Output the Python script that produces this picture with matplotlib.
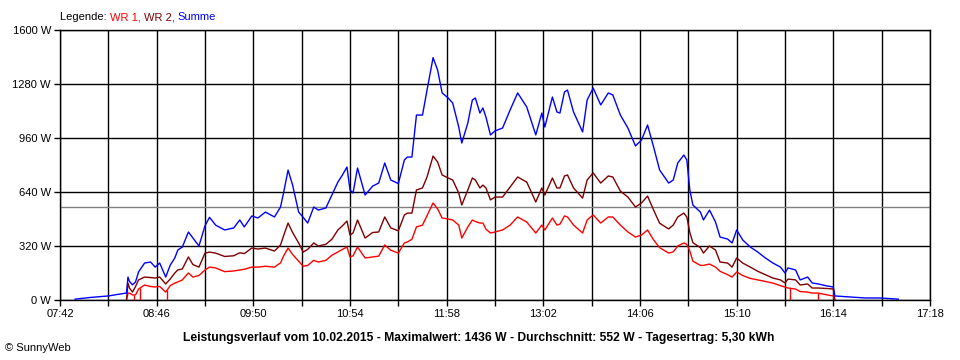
import numpy as np
import matplotlib
matplotlib.use('Agg')
from matplotlib import pyplot as plt

plt.rcParams['font.family'] = ['Liberation Sans', 'DejaVu Sans']

# Summe (blau), Zeit als HH:MM
zeit_summe = ['07:52', '08:02', '08:14', '08:25', '08:26', '08:27', '08:28', '08:30', '08:32', '08:34',
              '08:38', '08:42', '08:45', '08:48', '08:52', '08:55', '08:58', '09:00', '09:03', '09:07',
              '09:10', '09:14', '09:18', '09:21', '09:25', '09:31', '09:37', '09:41', '09:44', '09:49',
              '09:53', '09:58', '10:04', '10:08', '10:10', '10:13', '10:16', '10:20', '10:23', '10:26',
              '10:30', '10:33', '10:38', '10:42', '10:46', '10:49', '10:52', '10:54', '10:56', '10:59',
              '11:04', '11:09', '11:13', '11:17', '11:21', '11:26', '11:30', '11:32', '11:35', '11:38',
              '11:42', '11:45', '11:49', '11:52', '11:55', '11:59', '12:02', '12:06', '12:08', '12:12',
              '12:15', '12:17', '12:20', '12:22', '12:24', '12:27', '12:30', '12:35', '12:40', '12:45',
              '12:51', '12:57', '13:01', '13:03', '13:08', '13:11', '13:13', '13:16', '13:18', '13:22',
              '13:28', '13:31', '13:35', '13:40', '13:45', '13:48', '13:53', '13:58', '14:03', '14:07',
              '14:11', '14:15', '14:19', '14:25', '14:28', '14:31', '14:35', '14:37', '14:39', '14:41',
              '14:46', '14:48', '14:52', '14:56', '14:59', '15:04', '15:07', '15:10', '15:14', '15:19',
              '15:24', '15:29', '15:34', '15:39', '15:42', '15:44', '15:49', '15:52', '15:57', '16:00',
              '16:04', '16:10', '16:14', '16:15', '16:25', '16:35', '16:45', '16:57']
summe = [5, 15, 24, 40, 40, 136, 110, 90, 107, 166,
         219, 225, 195, 219, 136, 207, 249, 296, 314, 403,
         367, 320, 440, 490, 444, 415, 427, 474, 433, 498,
         486, 521, 492, 551, 634, 770, 681, 521, 490, 456,
         551, 533, 545, 622, 699, 741, 788, 652, 634, 782,
         622, 675, 693, 812, 711, 690, 830, 847, 847, 1096,
         1096, 1244, 1436, 1363, 1227, 1197, 1167, 1025, 930, 1049,
         1185, 1197, 1108, 1138, 1084, 978, 1002, 1019, 1126, 1227,
         1144, 978, 1108, 1025, 1203, 1114, 1108, 1233, 1244, 1114,
         996, 1185, 1256, 1156, 1227, 1215, 1096, 1019, 913, 948,
         1037, 907, 770, 693, 711, 812, 859, 830, 652, 563,
         521, 474, 533, 462, 373, 361, 338, 415, 356, 314,
         284, 249, 219, 195, 160, 190, 178, 119, 136, 101,
         95, 83, 77, 24, 18, 12, 12, 5]

# WR 1 (rot) und WR 2 (dunkelrot), gleiche Zeitpunkte wie oben ab 08:26
zeit_wr = zeit_summe[4:134]
wr2 = [0, 100, 71, 47, 80, 119,
       136, 133, 130, 136, 95, 125, 160, 178, 184, 255,
       210, 195, 278, 284, 278, 258, 262, 280, 275, 308,
       302, 308, 290, 326, 380, 456, 400, 338, 284, 300,
       338, 320, 330, 360, 415, 440, 468, 385, 397, 474,
       367, 400, 403, 492, 427, 410, 504, 515, 515, 652,
       664, 729, 853, 818, 741, 723, 711, 634, 563, 652,
       723, 711, 664, 681, 664, 593, 610, 610, 670, 729,
       699, 581, 664, 622, 723, 664, 664, 735, 741, 664,
       604, 711, 753, 693, 735, 729, 645, 610, 551, 575,
       616, 533, 455, 421, 444, 492, 515, 492, 400, 340,
       310, 278, 320, 296, 225, 219, 195, 249, 219, 195,
       170, 150, 130, 119, 101, 124, 119, 89, 95, 71,
       71, 68, 65, 0]
wr1 = [0, 40, 41, 30, 30, 65,
       89, 80, 77, 80, 47, 85, 100, 107, 119, 160,
       136, 145, 178, 195, 190, 168, 172, 178, 182, 195,
       195, 200, 195, 220, 260, 308, 270, 230, 200, 205,
       235, 225, 235, 265, 285, 300, 314, 255, 262, 314,
       249, 255, 260, 326, 295, 278, 338, 344, 360, 433,
       444, 500, 575, 540, 486, 480, 474, 444, 367, 433,
       474, 465, 456, 456, 420, 397, 403, 415, 444, 492,
       462, 397, 444, 415, 486, 444, 450, 498, 492, 444,
       397, 474, 504, 456, 492, 492, 444, 403, 373, 385,
       415, 356, 310, 278, 285, 320, 338, 330, 290, 230,
       205, 205, 213, 195, 170, 150, 136, 166, 145, 128,
       119, 110, 100, 85, 77, 71, 65, 50, 47, 41,
       41, 30, 24, 0]
# kurze Einbrueche auf 0 W bei WR 1
ausfall_wr1 = ['08:31', '08:35', '08:53', '15:45', '16:04']

durchschnitt = 552
y_ticks = [0, 320, 640, 960, 1280, 1600]
x_labels = ['07:42', '08:46', '09:50', '10:54', '11:58', '13:02', '14:06', '15:10', '16:14', '17:18']
titel = ('Leistungsverlauf vom 10.02.2015 - Maximalwert: 1436 W - Durchschnitt: 552 W'
         ' - Tagesertrag: 5,30 kWh')


def to_min(s):
    h, m = s.split(':')
    return int(h) * 60 + int(m)


t_summe = np.array([to_min(s) for s in zeit_summe])
t_wr = np.array([to_min(s) for s in zeit_wr])
t_aus = np.array([to_min(s) for s in ausfall_wr1])

fig = plt.figure(figsize=(9.6, 3.6), dpi=100)
ax = fig.add_axes([60 / 960, 1 - 300 / 360, 870 / 960, 270 / 360])

x0 = to_min(x_labels[0])
x1 = to_min(x_labels[-1])
ax.set_xlim(x0, x1)
ax.set_ylim(0, 1600)

# Gitter
grid_x = np.arange(x0, x1 + 1, 32)
for gx in grid_x:
    ax.axvline(gx, color='black', lw=1.0, zorder=1)
for gy in y_ticks:
    ax.axhline(gy, color='black', lw=1.0, zorder=1)
ax.axhline(durchschnitt, color='#808080', lw=1.0, zorder=1)

ax.plot(t_wr, wr1, color='#ff0000', lw=1.0, zorder=3)
ax.vlines(t_aus, 0, np.interp(t_aus, t_wr, wr1), color='#ff0000', lw=1.0, zorder=3)
ax.plot(t_wr, wr2, color='#800000', lw=1.0, zorder=4)
ax.plot(t_summe, summe, color='#0000ff', lw=1.0, zorder=5)

ax.set_xticks(grid_x)
ax.set_xticklabels([x_labels[i // 2] if i % 2 == 0 else '' for i in range(len(grid_x))])
ax.set_yticks(y_ticks)
ax.set_yticklabels(['%d W' % v for v in y_ticks])
ax.tick_params(axis='both', direction='out', length=4.5, width=1.0, color='black',
               labelsize=8, pad=2)
for sp in ax.spines.values():
    sp.set_linewidth(1.0)

# Legende oben, farbige Teile aneinander gehaengt
prev = fig.text(60 / 960, 1 - 17 / 360, 'Legende: ', fontsize=8, va='center', ha='left')
for txt, col in [('WR 1, ', '#ff0000'), ('WR 2, ', '#800000'), ('Summe', '#0000ff')]:
    prev = ax.annotate(txt, xy=(1, 0.5), xycoords=prev, va='center', ha='left',
                       fontsize=8, color=col, annotation_clip=False)

fig.text(479 / 960, 1 - 338 / 360, titel, fontsize=8.7, fontweight='bold', ha='center', va='center')
fig.text(5 / 960, 1 - 348 / 360, '\u00a9 SunnyWeb', fontsize=8, ha='left', va='center')

fig.savefig('out.png', dpi=100)
